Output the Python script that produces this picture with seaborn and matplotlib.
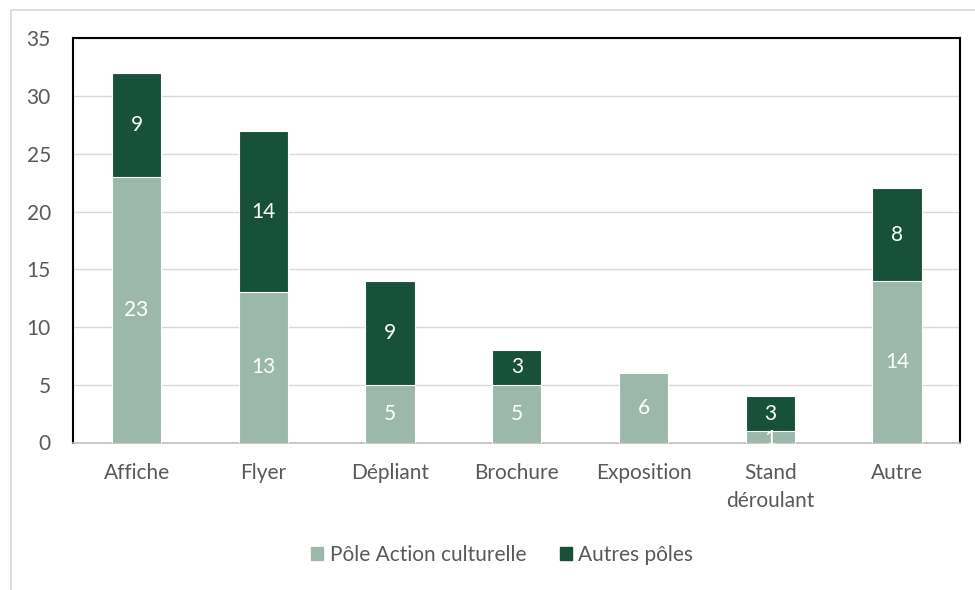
import pandas as pd
import matplotlib.pyplot as plt
import seaborn as sns
from matplotlib.patches import Patch, Rectangle

# Data
categories = ['Affiche', 'Flyer', 'Dépliant', 'Brochure', 'Exposition', 'Stand\ndéroulant', 'Autre']
pole_action = [23, 13, 5, 5, 6, 1, 14]
autres_poles = [9, 14, 9, 3, 0, 3, 8]

light = '#9BB8AB'
dark = '#17513A'
txt = '#595959'

df = pd.DataFrame({'cat': categories, 'pac': pole_action, 'autres': autres_poles})
df['total'] = df['pac'] + df['autres']

sns.set_style('white')
plt.rcParams['font.family'] = ['Lato', 'DejaVu Sans']

fig = plt.figure(figsize=(9.75, 5.9), dpi=100)
ax = fig.add_axes([0.075, 0.25, 0.91, 0.685])

# stacked bars: total in dark, lower part in light drawn over it
sns.barplot(data=df, x='cat', y='total', color=dark, width=0.39, saturation=1,
            edgecolor='white', linewidth=0.8, ax=ax, zorder=3)
sns.barplot(data=df, x='cat', y='pac', color=light, width=0.39, saturation=1,
            edgecolor='white', linewidth=0.8, ax=ax, zorder=3)

for i, row in df.iterrows():
    if row['pac'] > 0:
        ax.text(i, row['pac'] / 2 if row['pac'] > 1 else 0.3, str(row['pac']),
                ha='center', va='center', color='white', fontsize=15, zorder=5)
    if row['autres'] > 0:
        ax.text(i, row['pac'] + row['autres'] / 2, str(row['autres']),
                ha='center', va='center', color='white', fontsize=15, zorder=5)

ax.set_ylim(0, 35)
ax.set_xlim(-0.5, len(categories) - 0.5)
ax.set_yticks(range(0, 36, 5))
ax.yaxis.grid(True, color='#D9D9D9', linewidth=1, zorder=0)
ax.set_axisbelow(True)
ax.set_xlabel('')
ax.set_ylabel('')
ax.tick_params(axis='both', length=0, labelsize=15, labelcolor=txt)
ax.tick_params(axis='x', pad=15)
ax.tick_params(axis='y', pad=16)
for lbl in ax.get_xticklabels():
    lbl.set_linespacing(1.5)

for side in ['left', 'top', 'right']:
    ax.spines[side].set_color('black')
    ax.spines[side].set_linewidth(1.5)
ax.spines['bottom'].set_color('#BFBFBF')
ax.spines['bottom'].set_linewidth(1.2)

handles = [Patch(color=light, label='Pôle Action culturelle'),
           Patch(color=dark, label='Autres pôles')]
fig.legend(handles=handles, loc='center', bbox_to_anchor=(0.515, 0.06), ncol=2,
           frameon=False, fontsize=15, labelcolor=txt, handlelength=0.6,
           handleheight=0.6, handletextpad=0.3, columnspacing=1.6)

# outer chart frame
fig.patches.append(Rectangle((0.011, -0.01), 1.0, 0.993, transform=fig.transFigure,
                             fill=False, edgecolor='#D9D9D9', linewidth=1.2))

fig.savefig('out.png', dpi=100)
